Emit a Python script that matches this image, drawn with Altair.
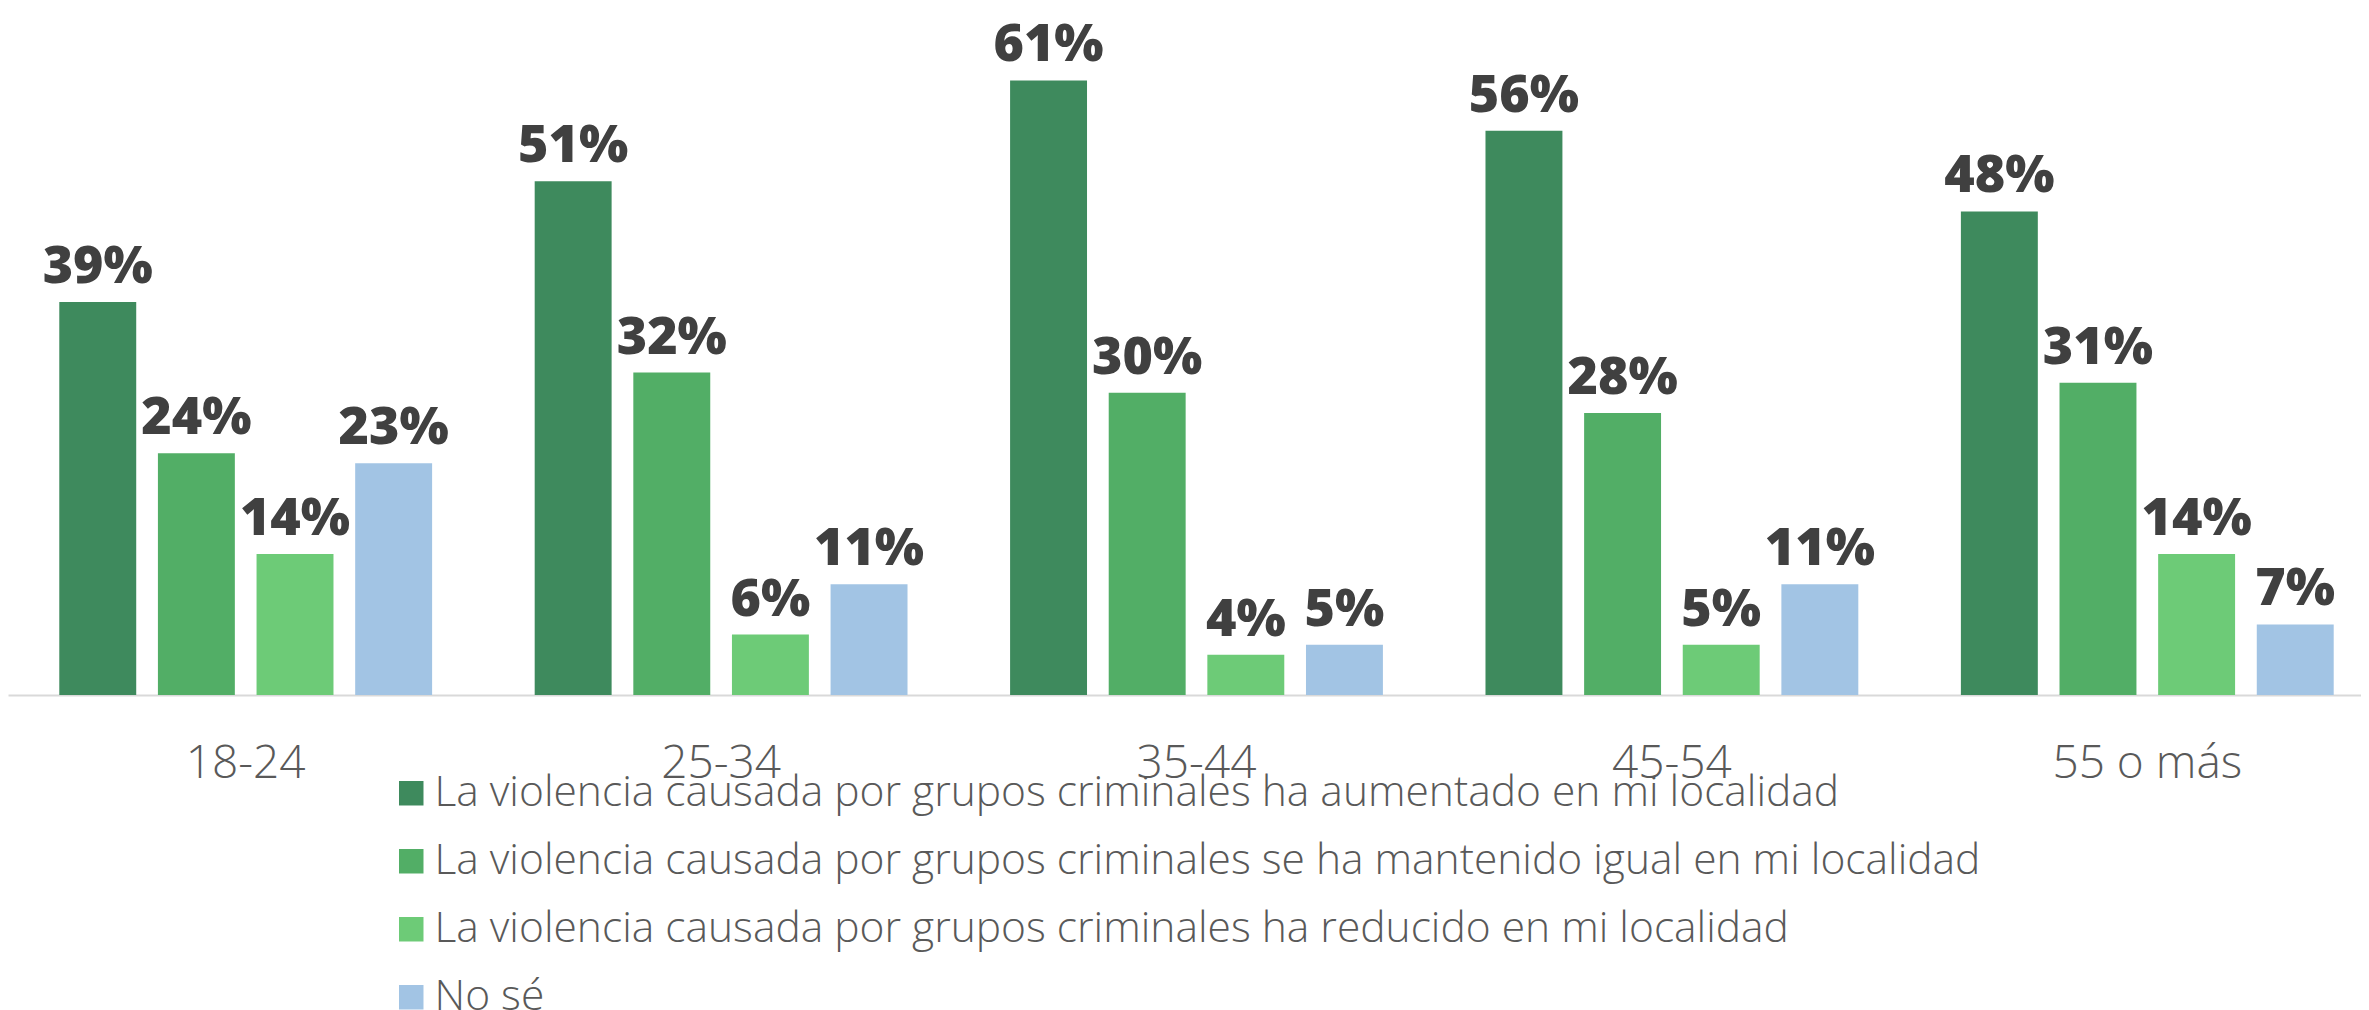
import altair as alt
import pandas as pd

groups = ["18-24", "25-34", "35-44", "45-54", "55 o más"]
series = [
    "La violencia causada por  grupos criminales  ha aumentado en mi localidad",
    "La violencia causada por grupos criminales se ha mantenido igual en mi localidad",
    "La violencia causada por  grupos criminales ha reducido en mi localidad",
    "No sé",
]
aumentado = [39, 51, 61, 56, 48]
igual = [24, 32, 30, 28, 31]
reducido = [14, 6, 4, 5, 14]
nose = [23, 11, 5, 11, 7]
colors = ["#3E8A5D", "#52AE66", "#6DCB77", "#A2C4E4"]

rows = []
for s, vals in zip(series, [aumentado, igual, reducido, nose]):
    for g, v in zip(groups, vals):
        rows.append({"grupo": g, "serie": s, "valor": v, "etiqueta": f"{v}%"})
df = pd.DataFrame(rows)

x = alt.X("grupo:N", sort=groups,
          scale=alt.Scale(paddingInner=0, paddingOuter=0, range=[0, 2377]),
          axis=alt.Axis(title=None, labelAngle=0, ticks=False, labelFontSize=46,
                        labelFont="Open Sans", labelFontWeight=300,
                        labelColor="#595959", labelPadding=46, labelLimit=1000,
                        domainColor="#d9d9d9", domainWidth=2))
xo = alt.XOffset("serie:N", sort=series,
                 scale=alt.Scale(paddingInner=0.22, paddingOuter=0.52))
y = alt.Y("valor:Q", scale=alt.Scale(domain=[0, 67.2], nice=False),
          axis=None)

bars = alt.Chart(df).mark_bar().encode(
    x=x, xOffset=xo, y=y,
    color=alt.Color("serie:N", sort=series,
                    scale=alt.Scale(domain=series, range=colors),
                    legend=alt.Legend(title=None, orient="none",
                                      legendX=382, legendY=754,
                                      symbolType="square", symbolSize=600,
                                      symbolStrokeWidth=0,
                                      labelFontSize=42.5, labelFont="Open Sans",
                                      labelFontWeight=300, labelColor="#595959",
                                      labelLimit=2000, rowPadding=25,
                                      labelOffset=2)),
)

text = alt.Chart(df).mark_text(
    baseline="bottom", dy=-8, fontSize=52, fontWeight=800,
    font="Open Sans", color="#404040"
).encode(x=x, xOffset=xo, y=y, text="etiqueta:N")

chart = (bars + text).properties(
    width=2353, height=677,
    autosize=alt.AutoSizeParams(type="none"),
    padding={"left": 0, "top": 10, "right": 0, "bottom": 315},
).configure(background="white").configure_view(stroke=None)

chart.save("out.html", embed_options={"renderer": "svg", "actions": False})
